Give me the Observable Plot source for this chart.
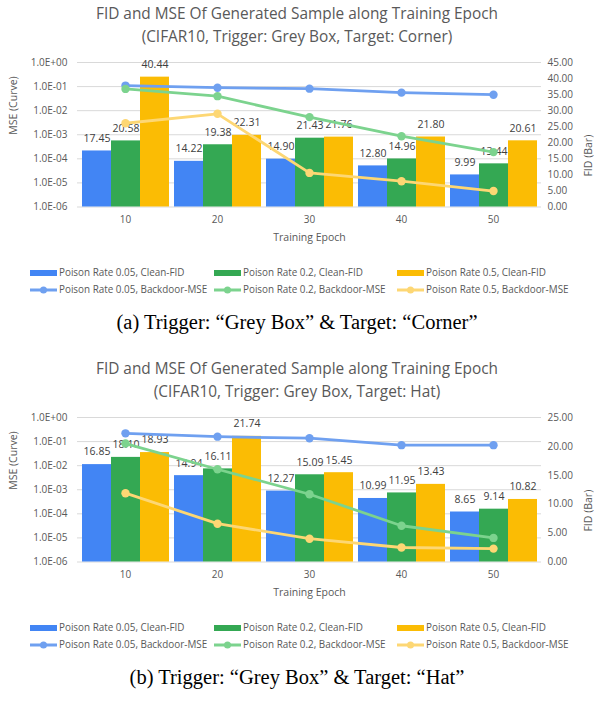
<!DOCTYPE html>
<html><head><meta charset="utf-8">
<script src="https://cdn.jsdelivr.net/npm/d3@7"></script>
<script src="https://cdn.jsdelivr.net/npm/@observablehq/plot@0.6"></script>
<style>
body{margin:0;background:#fff;}
#root{position:relative;width:594px;height:703px;overflow:hidden;font-family:"Open Sans",sans-serif;background:#fff;}
.panel{position:absolute;left:0;width:594px;height:355px;}
.title{position:absolute;left:0;top:2px;width:594px;text-align:center;font-size:15.4px;line-height:23px;color:#595959;}
.layer{position:absolute;left:0;top:45px;}
.layer svg{display:block;}
.leg{position:absolute;font-size:9.9px;color:#595959;white-space:nowrap;line-height:12px;}
.leg svg{vertical-align:middle;margin-right:2px;}
.caption{position:absolute;left:0;width:594px;text-align:center;font-family:"Liberation Serif","Times New Roman",serif;font-size:20.5px;color:#000;line-height:22px;}
</style></head>
<body><div id="root"></div>
<script>
// ---------- shared ----------
const epochs = [10, 20, 30, 40, 50];
const rates = ["0.05", "0.2", "0.5"];
const mseTicks = [1, 1e-1, 1e-2, 1e-3, 1e-4, 1e-5, 1e-6];
const barColors = ["#4285F4", "#34A853", "#FBBC04"];
const lineColors = ["#6FA0F0", "#7CD38E", "#FDD774"];
const barLegend = ["Poison Rate 0.05, Clean-FID", "Poison Rate 0.2, Clean-FID", "Poison Rate 0.5, Clean-FID"];
const lineLegend = ["Poison Rate 0.05, Backdoor-MSE", "Poison Rate 0.2, Backdoor-MSE", "Poison Rate 0.5, Backdoor-MSE"];
const xTitle = "Training Epoch";
const yLeftTitle = "MSE (Curve)";
const yRightTitle = "FID (Bar)";

// ---------- panel (a) ----------
const titleA = ["FID and MSE Of Generated Sample along Training Epoch", "(CIFAR10, Trigger: Grey Box, Target: Corner)"];
const captionA = "(a) Trigger: \u201cGrey Box\u201d & Target: \u201cCorner\u201d";
const fidA_005 = [17.45, 14.22, 14.90, 12.80, 9.99];
const fidA_02  = [20.58, 19.38, 21.43, 14.96, 13.44];
const fidA_05  = [40.44, 22.31, 21.76, 21.80, 20.61];
const mseA_005 = [0.11, 0.09, 0.082, 0.056, 0.046];
const mseA_02  = [0.08, 0.04, 0.0054, 0.00087, 0.00019];
const mseA_05  = [0.003, 0.0074, 0.000026, 0.0000118, 0.0000046];
const fidTicksA = [0, 5, 10, 15, 20, 25, 30, 35, 40, 45];

// ---------- panel (b) ----------
const titleB = ["FID and MSE Of Generated Sample along Training Epoch", "(CIFAR10, Trigger: Grey Box, Target: Hat)"];
const captionB = "(b) Trigger: \u201cGrey Box\u201d & Target: \u201cHat\u201d";
const fidB_005 = [16.85, 14.94, 12.27, 10.99, 8.65];
const fidB_02  = [18.10, 16.11, 15.09, 11.95, 9.14];
const fidB_05  = [18.93, 21.74, 15.45, 13.43, 10.82];
const mseB_005 = [0.22, 0.16, 0.138, 0.071, 0.071];
const mseB_02  = [0.083, 0.0071, 0.00065, 0.000032, 0.00001];
const mseB_05  = [0.00072, 0.000039, 0.0000093, 0.000004, 0.0000036];
const fidTicksB = [0, 5, 10, 15, 20, 25];

// ---------- layout ----------
const W = 594, H = 210, ML = 77, MR = 53, MT = 17, MB = 48.5;
const textColor = "#595959";

function fmtE(d) {
  const e = Math.round(Math.log10(d));
  return "1.0E" + (e < 0 ? "-" : "+") + String(Math.abs(e)).padStart(2, "0");
}

function panel(top, title, caption, fids, mses, fidTicks) {
  const root = document.getElementById("root");
  const p = document.createElement("div");
  p.className = "panel";
  p.style.top = top + "px";
  root.appendChild(p);

  const t = document.createElement("div");
  t.className = "title";
  t.innerHTML = title.join("<br>");
  p.appendChild(t);

  const barData = [], lineData = [];
  rates.forEach((r, i) => epochs.forEach((e, j) => {
    barData.push({epoch: e, rate: r, fid: fids[i][j]});
    lineData.push({epoch: e, rate: r, mse: mses[i][j]});
  }));
  const fidMax = fidTicks[fidTicks.length - 1];
  const common = {width: W, height: H, marginLeft: ML, marginRight: MR, marginTop: MT, marginBottom: MB,
    style: {background: "transparent", overflow: "visible", fontFamily: "'Open Sans', sans-serif"}};

  const grid = Plot.plot({
    ...common,
    x: {domain: [0, 1], axis: null},
    y: {type: "log", domain: [1e-6, 1]},
    marks: [
      Plot.ruleY(mseTicks, {stroke: "#d9d9d9", strokeWidth: 1}),
      Plot.axisY({anchor: "left", ticks: mseTicks, tickFormat: fmtE, tickSize: 0, tickPadding: 10, fontSize: 10, label: null, color: textColor}),
      Plot.text([yLeftTitle], {frameAnchor: "left", rotate: -90, dx: -64, fontSize: 10.5, fill: textColor}),
      Plot.text([yRightTitle], {frameAnchor: "right", rotate: -90, dx: 47, fontSize: 10.5, fill: textColor}),
      Plot.text([xTitle], {frameAnchor: "bottom", dy: 33.5, fontSize: 10.5, fill: textColor})
    ]
  });

  const bars = Plot.plot({
    ...common,
    fx: {domain: epochs, paddingInner: 0.04, paddingOuter: 0.02, label: null},
    x: {domain: rates, padding: 0, axis: null},
    y: {domain: [0, fidMax]},
    color: {domain: rates, range: barColors},
    marks: [
      Plot.barY(barData, {fx: "epoch", x: "rate", y: "fid", fill: "rate", inset: 0}),
      Plot.text(barData, {fx: "epoch", x: "rate", y: "fid", text: d => d.fid.toFixed(2), dy: -12.5, fontSize: 10.5, fill: "#404040"}),
      Plot.axisY({anchor: "right", ticks: fidTicks, tickFormat: d => d.toFixed(2), tickSize: 0, tickPadding: 10, fontSize: 10, label: null, color: textColor}),
      Plot.axisFx({anchor: "bottom", tickSize: 0, tickPadding: 9, fontSize: 10, label: null, color: textColor})
    ]
  });

  const lines = Plot.plot({
    ...common,
    x: {type: "point", domain: epochs, padding: 0.5, axis: null},
    y: {type: "log", domain: [1e-6, 1], axis: null},
    color: {domain: rates, range: lineColors},
    marks: [
      Plot.line(lineData, {x: "epoch", y: "mse", z: "rate", stroke: "rate", strokeWidth: 2.8}),
      Plot.dot(lineData, {x: "epoch", y: "mse", fill: "rate", r: 4.2})
    ]
  });

  [grid, bars, lines].forEach(svg => {
    const d = document.createElement("div");
    d.className = "layer";
    d.appendChild(svg);
    p.appendChild(d);
  });

  // legend
  const cols = [30, 214, 397];
  rates.forEach((r, i) => {
    const a = document.createElement("div");
    a.className = "leg";
    a.style.left = cols[i] + "px";
    a.style.top = (272 - 6) + "px";
    a.innerHTML = `<svg width="27" height="8"><rect x="0" y="1" width="27" height="6" fill="${barColors[i]}"/></svg>${barLegend[i]}`;
    p.appendChild(a);
    const b = document.createElement("div");
    b.className = "leg";
    b.style.left = cols[i] + "px";
    b.style.top = (289 - 6) + "px";
    b.innerHTML = `<svg width="27" height="8"><line x1="0" x2="27" y1="4" y2="4" stroke="${lineColors[i]}" stroke-width="3"/><circle cx="13.5" cy="4" r="3.5" fill="${lineColors[i]}"/></svg>${lineLegend[i]}`;
    p.appendChild(b);
  });

  const c = document.createElement("div");
  c.className = "caption";
  c.style.top = (322 - 11) + "px";
  c.textContent = caption;
  p.appendChild(c);
}

panel(0, titleA, captionA, [fidA_005, fidA_02, fidA_05], [mseA_005, mseA_02, mseA_05], fidTicksA);
panel(355, titleB, captionB, [fidB_005, fidB_02, fidB_05], [mseB_005, mseB_02, mseB_05], fidTicksB);
</script></body></html>
